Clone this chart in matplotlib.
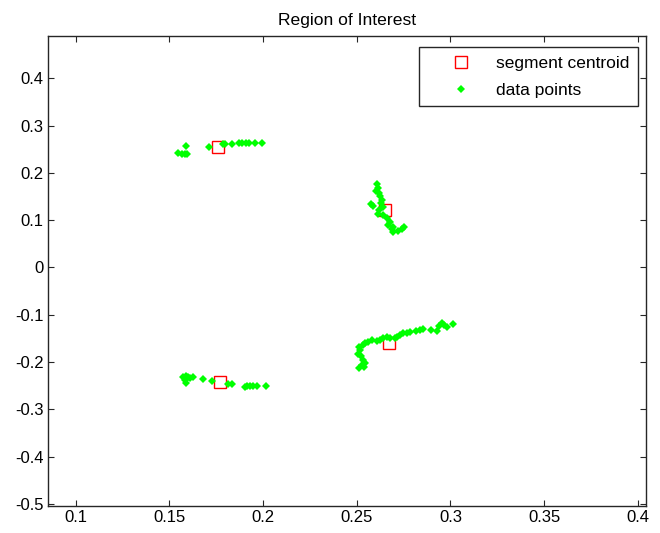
import numpy as np
import matplotlib
matplotlib.use("Agg")
import matplotlib.pyplot as plt
from matplotlib.ticker import FuncFormatter

plt.rcParams['font.family'] = ['Liberation Sans', 'DejaVu Sans']
plt.rcParams['axes.unicode_minus'] = False

# segment centroids
cx = [0.176, 0.265, 0.267, 0.177]
cy = [0.255, 0.121, -0.159, -0.242]

# data points, one list per segment
x1 = [0.1591, 0.1546, 0.1565, 0.1582, 0.1595, 0.1712, 0.1784, 0.1796, 0.1832,
      0.1871, 0.1890, 0.1908, 0.1926, 0.1956, 0.1995]
y1 = [0.2570, 0.2430, 0.2394, 0.2394, 0.2394, 0.2548, 0.2606, 0.2606, 0.2606,
      0.2633, 0.2633, 0.2633, 0.2633, 0.2633, 0.2633]

x2 = [0.2610, 0.2615, 0.2603, 0.2620, 0.2624, 0.2633, 0.2628, 0.2574, 0.2588,
      0.2642, 0.2620, 0.2615, 0.2638, 0.2660, 0.2677, 0.2668, 0.2695, 0.2740,
      0.2752, 0.2722, 0.2695, 0.2686]
y2 = [0.1760, 0.1691, 0.1619, 0.1576, 0.1506, 0.1436, 0.1365, 0.1338, 0.1296,
      0.1281, 0.1211, 0.1141, 0.1105, 0.1036, 0.0964, 0.0894, 0.0858, 0.0824,
      0.0858, 0.0774, 0.0753, 0.0824]

x3 = [0.2513, 0.2526, 0.2538, 0.2543, 0.2535, 0.2521, 0.2508, 0.2517, 0.2513,
      0.2532, 0.2543, 0.2561, 0.2580, 0.2606, 0.2624, 0.2642, 0.2660, 0.2677,
      0.2704, 0.2716, 0.2731, 0.2748, 0.2767, 0.2784, 0.2816, 0.2838, 0.2855,
      0.2895, 0.2927, 0.2941, 0.2954, 0.2966, 0.2980, 0.3012]
y3 = [-0.2134, -0.2064, -0.2100, -0.2015, -0.1958, -0.1874, -0.1831, -0.1747,
      -0.1677, -0.1641, -0.1605, -0.1572, -0.1536, -0.1550, -0.1536, -0.1500,
      -0.1479, -0.1500, -0.1500, -0.1466, -0.1430, -0.1394, -0.1381, -0.1360,
      -0.1339, -0.1324, -0.1310, -0.1324, -0.1339, -0.1240, -0.1183, -0.1219,
      -0.1255, -0.1198]

x4 = [0.1573, 0.1588, 0.1600, 0.1609, 0.1582, 0.1591, 0.1627, 0.1677, 0.1725,
      0.1814, 0.1832, 0.1903, 0.1915, 0.1929, 0.1947, 0.1965, 0.2015]
y4 = [-0.2311, -0.2296, -0.2311, -0.2345, -0.2381, -0.2438, -0.2323, -0.2366,
      -0.2396, -0.2472, -0.2472, -0.2522, -0.2508, -0.2508, -0.2508, -0.2508,
      -0.2508]

xticks = [0.1, 0.15, 0.2, 0.25, 0.3, 0.35, 0.4]
yticks = [-0.5, -0.4, -0.3, -0.2, -0.1, 0, 0.1, 0.2, 0.3, 0.4]

fig = plt.figure(figsize=(6.6, 5.33), dpi=100)
ax = fig.add_axes([48/660, 1 - 506/533, (646 - 48)/660, (506 - 36)/533])

ax.plot(cx, cy, 's', ms=8, mfc='none', mec='red', mew=1.0,
        label='segment centroid', zorder=2)
px = np.concatenate([x1, x2, x3, x4])
py = np.concatenate([y1, y2, y3, y4])
ax.plot(px, py, 'D', ms=4.5, color='#00ff00', mew=0, label='data points', zorder=3)

ax.set_xlim(0.0852, 0.4044)
ax.set_ylim(-0.5042, 0.4894)
ax.set_xticks(xticks)
ax.set_yticks(yticks)
ax.xaxis.set_major_formatter(FuncFormatter(lambda v, p: '%g' % round(v, 3)))
ax.yaxis.set_major_formatter(FuncFormatter(lambda v, p: '%g' % round(v, 3)))
ax.tick_params(direction='in', length=4, width=0.8, labelsize=12, color='#262626',
               top=True, right=True, pad=3)
for s in ax.spines.values():
    s.set_linewidth(1.0)
    s.set_color('#262626')

ax.set_title('Region of Interest', fontsize=12.6, pad=8)

leg = ax.legend(loc='upper right', bbox_to_anchor=(638/660, 1 - 47/533),
                bbox_transform=fig.transFigure, fontsize=12.5, fancybox=False,
                framealpha=1, edgecolor='#262626', borderpad=0.5,
                handlelength=3.85, handletextpad=0.1, labelspacing=0.68,
                borderaxespad=0)
leg.get_frame().set_linewidth(1.0)

fig.savefig('out.png', dpi=100)
